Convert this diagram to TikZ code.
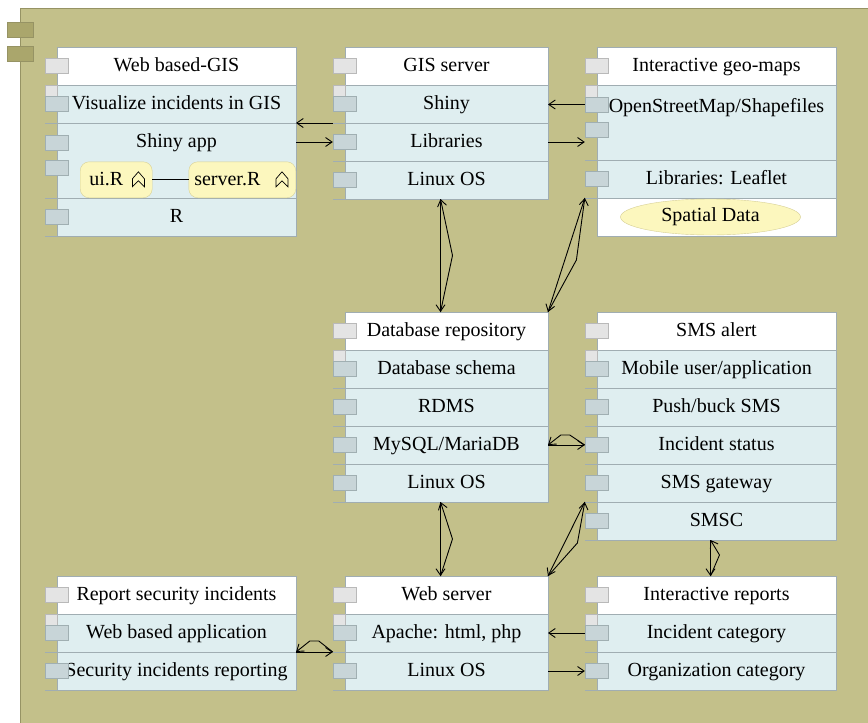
\documentclass[tikz,border=0pt]{standalone}
\usepackage{fontspec}
\setmainfont{Liberation Serif}
\usetikzlibrary{positioning,shapes.geometric,arrows.meta,calc}

\definecolor{pkgbg}{RGB}{195,192,138}
\definecolor{pkgline}{RGB}{150,147,100}
\definecolor{tabfill}{RGB}{170,166,108}
\definecolor{rowfill}{RGB}{223,238,240}
\definecolor{boxline}{RGB}{160,173,178}
\definecolor{portfill}{RGB}{200,213,216}
\definecolor{portline}{RGB}{160,175,178}
\definecolor{hportfill}{RGB}{228,228,228}
\definecolor{hportline}{RGB}{185,185,185}
\definecolor{notefill}{RGB}{252,247,190}
\definecolor{noteline}{RGB}{215,208,150}

% two arrows between a pair of ends, one straight and one bent
\newcommand\twoway[3]{%
  \draw[conn] (#1) -- (#2);
  \draw[conn] (#2) -- ($(#1)!.5!(#2)+(#3)$) -- (#1);
}

\begin{document}
\begin{tikzpicture}[x=1pt,y=-1pt, font=\fontsize{20}{22}\selectfont,
  txt/.style={text height=15pt, text depth=4pt},
  hdr/.style={txt, draw=boxline, fill=white, minimum height=38pt, inner sep=0pt, outer sep=0pt},
  row/.style={hdr, fill=rowfill},
  wide/.style={minimum width=239pt},
  narrow/.style={minimum width=203pt},
  port/.style={draw=portline, fill=portfill, minimum width=23pt, minimum height=15pt, inner sep=0pt},
  hport/.style={port, draw=hportline, fill=hportfill},
  note/.style={txt, draw=noteline, fill=notefill, rounded corners=9pt, minimum height=36pt, inner sep=0pt},
  conn/.style={-{Straight Barb[length=6.5pt,width=9pt]}, line width=0.9pt}]

  \useasboundingbox (0,0) rectangle (868,723);
  \fill[pkgbg] (20,8) rectangle (868,723);
  \draw[pkgline] (20,723) -- (20,8) -- (868,8);
  \foreach \y in {22,46} \draw[pkgline, fill=tabfill] (7,\y) rectangle (33,\y+15);

  % headers
  \foreach \b/\x/\y/\w/\t in {wgis/57/47/239/Web based-GIS, gis/345/47/203/GIS server,
      geo/597/47/239/Interactive geo-maps, db/345/312/203/Database repository,
      sms/597/312/239/SMS alert, sec/57/576/239/Report security incidents,
      web/345/576/203/Web server, rep/597/576/239/Interactive reports}
    \node[hdr, minimum width=\w pt, anchor=north west] (\b0) at (\x,\y) {\t};

  % Web based-GIS
  \node[row, wide, below=0pt of wgis0] (wgis1) {Visualize incidents in GIS};
  \node[row, wide, minimum height=75pt, below=0pt of wgis1] (wgis2) {};
  \node[row, wide, below=0pt of wgis2] (wgis3) {R};
  \node[txt] (shiny) at ([yshift=-19pt]wgis2.north) {Shiny app};
  \node[note, minimum width=72pt, anchor=south west] (uiR) at ([xshift=23pt]wgis2.south west) {ui.R\hspace{20pt}\mbox{}};
  \node[note, minimum width=107pt, anchor=south east] (srvR) at (wgis2.south east) {server.R\hspace{30pt}\mbox{}};
  \draw[line width=0.8pt] (uiR) -- (srvR);
  \foreach \n in {uiR,srvR}
    \draw[line width=0.7pt] ([xshift=-14pt]\n.east) ++(-6,7) -- ++(0,-8) -- ++(6,-7) -- ++(6,7) -- ++(0,8) -- ++(-6,-6) -- cycle;

  % GIS server
  \foreach \t [count=\i, remember=\i as \j (initially 0)] in {Shiny, Libraries, Linux OS}
    \node[row, narrow, below=0pt of gis\j] (gis\i) {\t};

  % Interactive geo-maps
  \node[row, wide, minimum height=75pt, below=0pt of geo0] (geo1) {};
  \node[txt] (osm) at ([yshift=-22pt]geo1.north) {OpenStreetMap/Shapefiles};
  \node[row, wide, below=0pt of geo1] (geo2) {Libraries: Leaflet};
  \node[hdr, wide, below=0pt of geo2] (geo3) {};
  \node[ellipse, draw=noteline, fill=notefill, minimum width=180pt, minimum height=36pt, inner sep=0pt] (spatial) at ([xshift=-6pt]geo3.center) {Spatial Data};

  % Database repository
  \foreach \t [count=\i, remember=\i as \j (initially 0)] in {Database schema, RDMS, MySQL/MariaDB, Linux OS}
    \node[row, narrow, below=0pt of db\j] (db\i) {\t};

  % SMS alert
  \foreach \t [count=\i, remember=\i as \j (initially 0)] in {Mobile user/application, Push/buck SMS, Incident status, SMS gateway, SMSC}
    \node[row, wide, below=0pt of sms\j] (sms\i) {\t};

  % bottom line
  \foreach \t [count=\i, remember=\i as \j (initially 0)] in {Web based application, Security incidents reporting}
    \node[row, wide, below=0pt of sec\j] (sec\i) {\t};
  \foreach \t [count=\i, remember=\i as \j (initially 0)] in {{Apache: html, php}, Linux OS}
    \node[row, narrow, below=0pt of web\j] (web\i) {\t};
  \foreach \t [count=\i, remember=\i as \j (initially 0)] in {Incident category, Organization category}
    \node[row, wide, below=0pt of rep\j] (rep\i) {\t};

  % little ticks and squares on the left edges
  \foreach \n in {wgis1,wgis2,wgis3,gis1,gis2,gis3,geo1,geo2,db1,db2,db3,db4,
      sms1,sms2,sms3,sms4,sms5,sec1,sec2,web1,web2,rep1,rep2}
    \draw[boxline] (\n.south west) -- ++(-12pt,0pt);
  \foreach \b in {wgis,gis,geo,db,sms,sec,web,rep}
    \draw[hportline, fill=hportfill] (\b1.north west) rectangle ++(-12pt,-12pt);

  % ports
  \foreach \n in {wgis0,gis0,geo0,db0,sms0,sec0,web0,rep0}
    \node[hport] (p\n) at ([xshift=-0.5pt]\n.west) {};
  \foreach \n in {wgis1,wgis3,gis1,gis2,gis3,geo2,db1,db2,db3,db4,
      sms1,sms2,sms3,sms4,sms5,sec1,sec2,web1,web2,rep1,rep2}
    \node[port] (p\n) at ([xshift=-0.5pt]\n.west) {};
  \node[port] (pwgis2a) at ([xshift=-0.5pt,yshift=17.5pt]wgis2.west) {};
  \node[port] (pwgis2b) at ([xshift=-0.5pt,yshift=-7.5pt]wgis2.west) {};
  \node[port] (pgeo1a) at ([xshift=-0.5pt,yshift=18pt]geo1.west) {};
  \node[port] (pgeo1b) at ([xshift=-0.5pt,yshift=-7.5pt]geo1.west) {};

  % connectors
  \draw[conn] (pgis1.west |- gis1.south) -- (wgis1.south east);
  \draw[conn] (pgis2.west -| wgis2.east) -- (pgis2.west);
  \draw[conn] (pgeo1a.west) -- (pgeo1a.west -| gis1.east);
  \draw[conn] (gis2.east) -- (gis2.east -| pgeo1b.west);

  \coordinate (gisB) at ([xshift=-6pt]gis3.south);
  \coordinate (dbT) at ([xshift=-6pt]db0.north);
  \coordinate (geoB) at (pgeo2.west |- geo2.south);
  \coordinate (dbB) at ([xshift=-6pt]db4.south);
  \coordinate (webT) at ([xshift=-6pt]web0.north);
  \coordinate (smsG) at (psms4.west |- sms4.south);
  \coordinate (smsB) at ([xshift=-6pt]sms5.south);
  \coordinate (repT) at ([xshift=-6pt]rep0.north);
  \coordinate (webL) at (pweb2.west |- web2.north);

  \twoway{gisB}{dbT}{12,0}
  \twoway{geoB}{db0.north east}{10,5}
  \twoway{dbB}{webT}{12,0}
  \twoway{smsG}{web0.north east}{11,4}
  \twoway{smsB}{repT}{9,-3}

  \draw[conn] (db3.east) -- (psms3.west);
  \draw[conn] (psms3.west) -- ++(-15,-10) -- ++(-9,0) -- (db3.east);
  \draw[conn] (sec2.north east) -- (webL);
  \draw[conn] (webL) -- ++(-14,-11) -- ++(-9,0) -- (sec2.north east);

  \draw[conn] (prep1.west) -- (prep1.west -| web1.east);
  \draw[conn] (web2.east) -- (web2.east -| prep2.west);
\end{tikzpicture}
\end{document}
